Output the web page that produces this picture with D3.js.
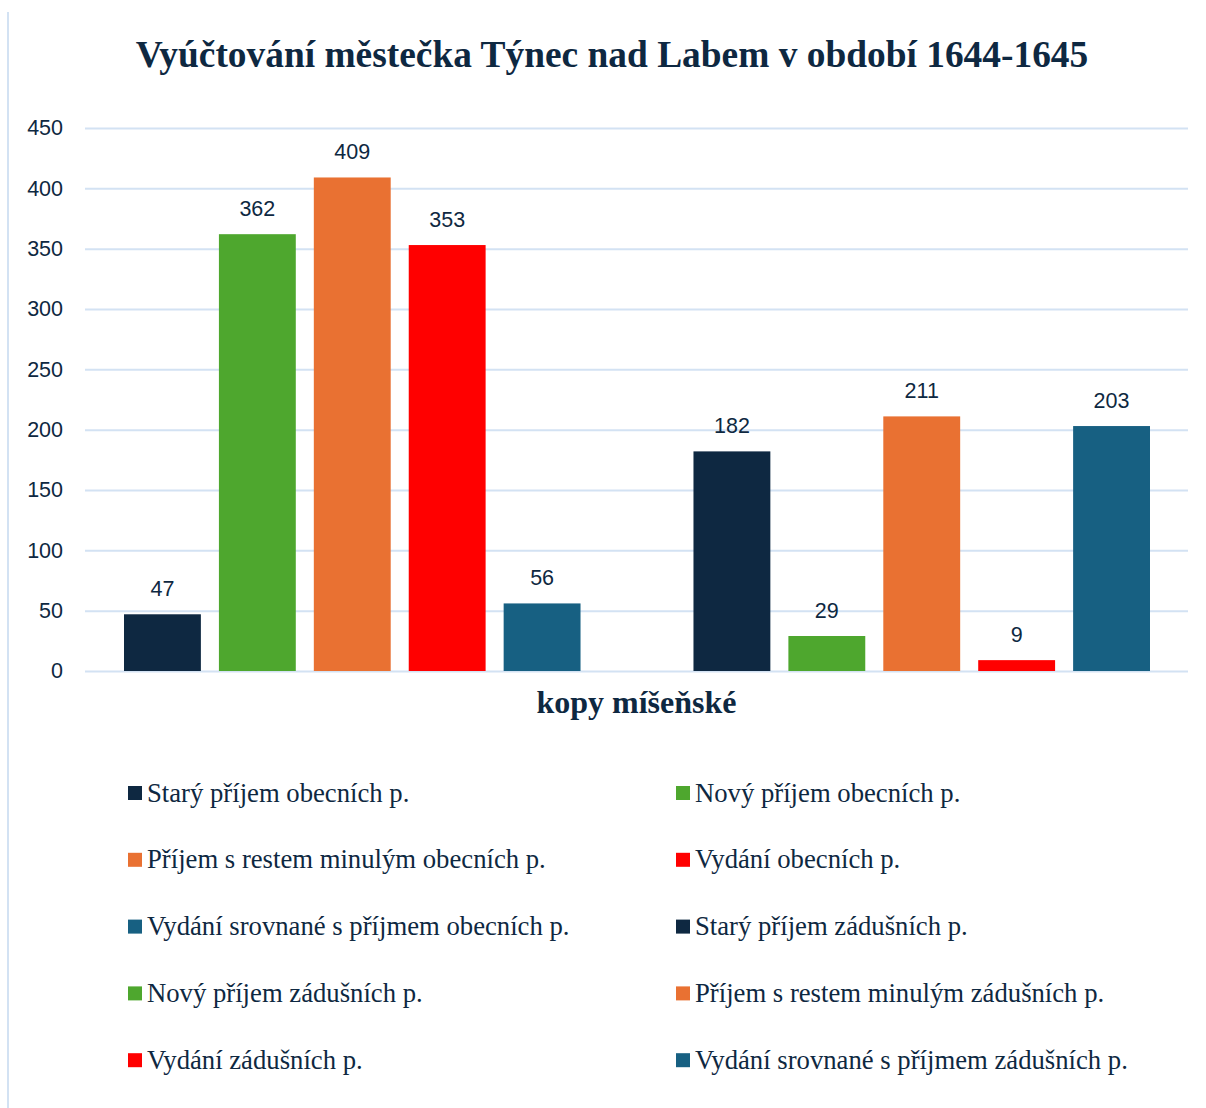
<!DOCTYPE html>
<html><head><meta charset="utf-8">
<script src="https://cdn.jsdelivr.net/npm/d3@7"></script>
<style>html,body{margin:0;padding:0;background:#fff;}svg{display:block;}</style>
</head><body>
<svg id="chart" width="1206" height="1108"></svg>
<script>
const title = "Vyúčtování městečka Týnec nad Labem v období 1644-1645";
const categoryLabel = "kopy míšeňské";
const seriesNames = [
  "Starý příjem obecních p.",
  "Nový příjem obecních p.",
  "Příjem s restem minulým obecních p.",
  "Vydání obecních p.",
  "Vydání srovnané s příjmem obecních p.",
  "",
  "Starý příjem zádušních p.",
  "Nový příjem zádušních p.",
  "Příjem s restem minulým zádušních p.",
  "Vydání zádušních p.",
  "Vydání srovnané s příjmem zádušních p."
];
const seriesValues = [47, 362, 409, 353, 56, null, 182, 29, 211, 9, 203];
const seriesColors = ["#0e2841", "#4ea72e", "#e97132", "#ff0000", "#176082", null,
                      "#0e2841", "#4ea72e", "#e97132", "#ff0000", "#176082"];
const yTicks = [0, 50, 100, 150, 200, 250, 300, 350, 400, 450];

const svg = d3.select("#chart");
const textColor = "#0e2841";
const gridColor = "#d3e2f3";

// left border
svg.append("line").attr("x1", 8).attr("x2", 8).attr("y1", 12).attr("y2", 1108)
  .attr("stroke", gridColor).attr("stroke-width", 2);

const plotL = 85, plotR = 1188, plotT = 128, plotB = 671;
const y = d3.scaleLinear().domain([0, 450]).range([plotB, plotT]);
const x = d3.scaleBand().domain(d3.range(seriesValues.length))
  .range([plotL + 39, plotR - 38]).paddingInner(0.19).paddingOuter(0);

// title
svg.append("text").attr("x", 612).attr("y", 67).attr("text-anchor", "middle")
  .attr("font-family", "Liberation Serif, Times New Roman, serif").attr("font-weight", "bold")
  .attr("font-size", 37.4).attr("fill", textColor).text(title);

// grid + y axis
const yAxis = d3.axisLeft(y).tickValues(yTicks).tickSize(-(plotR - plotL)).tickPadding(22);
const ga = svg.append("g").attr("transform", `translate(${plotL},0)`).call(yAxis);
ga.select(".domain").remove();
ga.selectAll(".tick line").attr("stroke", gridColor).attr("stroke-width", 2);
ga.selectAll(".tick text").attr("font-family", "Liberation Sans, Arial, sans-serif")
  .attr("font-size", 21.5).attr("fill", textColor);

// bars
const data = seriesValues.map((v, i) => ({i, v, c: seriesColors[i]})).filter(d => d.v != null);
svg.append("g").selectAll("rect").data(data).join("rect")
  .attr("x", d => x(d.i)).attr("width", x.bandwidth())
  .attr("y", d => y(d.v)).attr("height", d => y(0) - y(d.v))
  .attr("fill", d => d.c);

svg.append("g").selectAll("text").data(data).join("text")
  .attr("x", d => x(d.i) + x.bandwidth() / 2).attr("y", d => y(d.v) - 18)
  .attr("text-anchor", "middle").attr("font-family", "Liberation Sans, Arial, sans-serif")
  .attr("font-size", 21.5).attr("fill", textColor).text(d => d.v);

// category label
svg.append("text").attr("x", (plotL + plotR) / 2).attr("y", 713).attr("text-anchor", "middle")
  .attr("font-family", "Liberation Serif, Times New Roman, serif").attr("font-weight", "bold")
  .attr("font-size", 32).attr("fill", textColor).text(categoryLabel);

// legend
const legendItems = seriesNames.map((n, i) => ({n, c: seriesColors[i]})).filter(d => d.n);
const colX = [128, 676], rowY0 = 793, rowStep = 66.8;
const lg = svg.append("g").selectAll("g").data(legendItems).join("g")
  .attr("transform", (d, i) => `translate(${colX[i % 2]},${rowY0 + Math.floor(i / 2) * rowStep})`);
lg.append("rect").attr("x", 0).attr("y", -7).attr("width", 14).attr("height", 14).attr("fill", d => d.c);
lg.append("text").attr("x", 19).attr("y", 8.5)
  .attr("font-family", "Liberation Serif, Times New Roman, serif")
  .attr("font-size", 26.7).attr("fill", textColor).text(d => d.n);
</script>
</body></html>
